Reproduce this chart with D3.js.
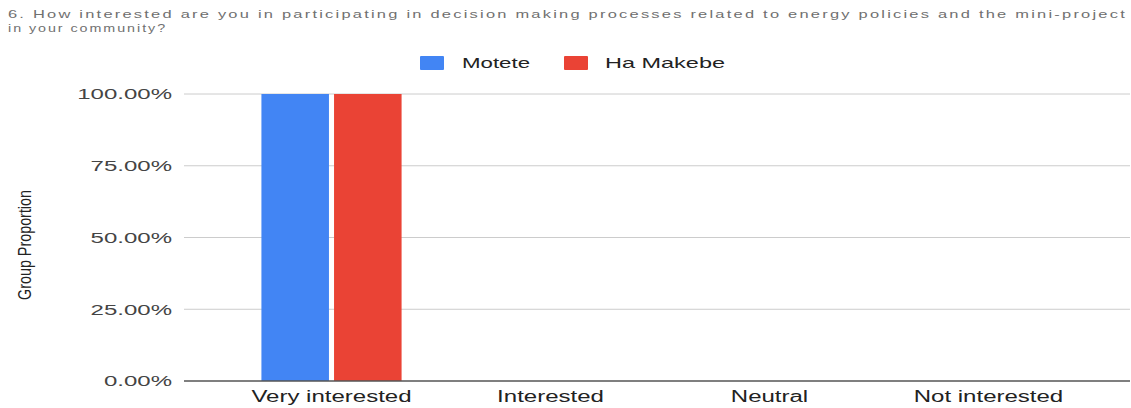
<!DOCTYPE html>
<html>
<head>
<meta charset="utf-8">
<script src="https://cdn.jsdelivr.net/npm/d3@7"></script>
<style>
  html, body { margin: 0; padding: 0; background: #fff; }
  svg { display: block; font-family: "Liberation Sans", Arial, sans-serif; }
</style>
</head>
<body>
<svg id="chart" width="1131" height="408"></svg>
<script>
const titleLines = [
  "6. How interested are you in participating in decision making processes related to energy policies and the mini-project",
  "in your community?"
];
const categories = ["Very interested", "Interested", "Neutral", "Not interested"];
const seriesNames = ["Motete", "Ha Makebe"];
const motete = [1.0, 0, 0, 0];
const haMakebe = [1.0, 0, 0, 0];
const yTicks = [0, 0.25, 0.5, 0.75, 1.0];
const yLabel = "Group Proportion";
const colors = ["#4285F4", "#EA4335"];

const svg = d3.select("#chart");
const W = 1131, H = 408;
const plot = { left: 184, right: 1130, top: 94, bottom: 381 };

// horizontal stretch factor of the source image
const stretch = 1.6;
function stretchText(sel, factor) {
  sel.each(function() {
    const len = this.getComputedTextLength();
    d3.select(this).attr("textLength", len * factor).attr("lengthAdjust", "spacingAndGlyphs");
  });
}

const y = d3.scaleLinear().domain([0, 1]).range([plot.bottom, plot.top]);
const x0 = d3.scaleBand().domain(categories).range([222, 1098]).paddingInner(0.36).paddingOuter(0.18);
const x1 = d3.scaleBand().domain(seriesNames).range([0, x0.bandwidth()]).paddingInner(0.07);

// Title
const title = svg.append("g");
title.selectAll("text").data(titleLines).join("text")
  .attr("x", 8).attr("y", (d, i) => 18 + i * 14)
  .attr("font-size", 11).attr("fill", "#707070")
  .attr("letter-spacing", 1.5)
  .text(d => d);
title.selectAll("text").filter((d, i) => i === 0).each(function() {
  d3.select(this).attr("textLength", 1119).attr("lengthAdjust", "spacingAndGlyphs");
});
title.selectAll("text").filter((d, i) => i === 1).each(function() {
  const len = this.getComputedTextLength();
  d3.select(this).attr("textLength", len * 1.3).attr("lengthAdjust", "spacingAndGlyphs");
});

// Gridlines
svg.append("g").selectAll("line").data(yTicks.filter(t => t > 0)).join("line")
  .attr("x1", plot.left).attr("x2", plot.right)
  .attr("y1", d => y(d)).attr("y2", d => y(d))
  .attr("stroke", "#cccccc").attr("stroke-width", 1);

// Y tick labels
const yAxisG = svg.append("g");
yAxisG.selectAll("text").data(yTicks).join("text")
  .attr("x", 172).attr("y", d => y(d)).attr("dy", "0.36em")
  .attr("text-anchor", "end").attr("font-size", 15).attr("fill", "#444444")
  .text(d => d3.format(".2%")(d))
  .call(stretchText, stretch);

// Bars
const series = [motete, haMakebe];
const barG = svg.append("g");
categories.forEach((c, ci) => {
  seriesNames.forEach((s, si) => {
    const v = series[si][ci];
    if (v > 0) {
      barG.append("rect")
        .attr("x", x0(c) + x1(s))
        .attr("y", y(v))
        .attr("width", x1.bandwidth())
        .attr("height", y(0) - y(v))
        .attr("fill", colors[si]);
    }
  });
});

// Zero axis line
svg.append("line")
  .attr("x1", plot.left).attr("x2", plot.right)
  .attr("y1", y(0)).attr("y2", y(0))
  .attr("stroke", "#555555").attr("stroke-width", 1.3);

// X labels
svg.append("g").selectAll("text").data(categories).join("text")
  .attr("x", d => x0(d) + x0.bandwidth() / 2).attr("y", 402)
  .attr("text-anchor", "middle").attr("font-size", 16).attr("fill", "#222222")
  .text(d => d)
  .call(stretchText, 1.5);

// Y axis title
svg.append("text")
  .attr("transform", "translate(31,245) rotate(-90)")
  .attr("text-anchor", "middle").attr("font-size", 18).attr("fill", "#222222")
  .text(yLabel)
  .each(function() { d3.select(this).attr("textLength", 110).attr("lengthAdjust", "spacingAndGlyphs"); });

// Legend
const legendItems = [
  { name: seriesNames[0], color: colors[0], sx: 420, tx: 462, tw: 68 },
  { name: seriesNames[1], color: colors[1], sx: 564, tx: 605, tw: 120 }
];
const lg = svg.append("g");
legendItems.forEach(it => {
  lg.append("rect").attr("x", it.sx).attr("y", 56).attr("width", 24).attr("height", 14).attr("fill", it.color).attr("rx", 1);
  lg.append("text").attr("x", it.tx).attr("y", 63).attr("dy", "0.36em")
    .attr("font-size", 15).attr("fill", "#222222").text(it.name)
    .attr("textLength", it.tw).attr("lengthAdjust", "spacingAndGlyphs");
});
</script>
</body>
</html>
